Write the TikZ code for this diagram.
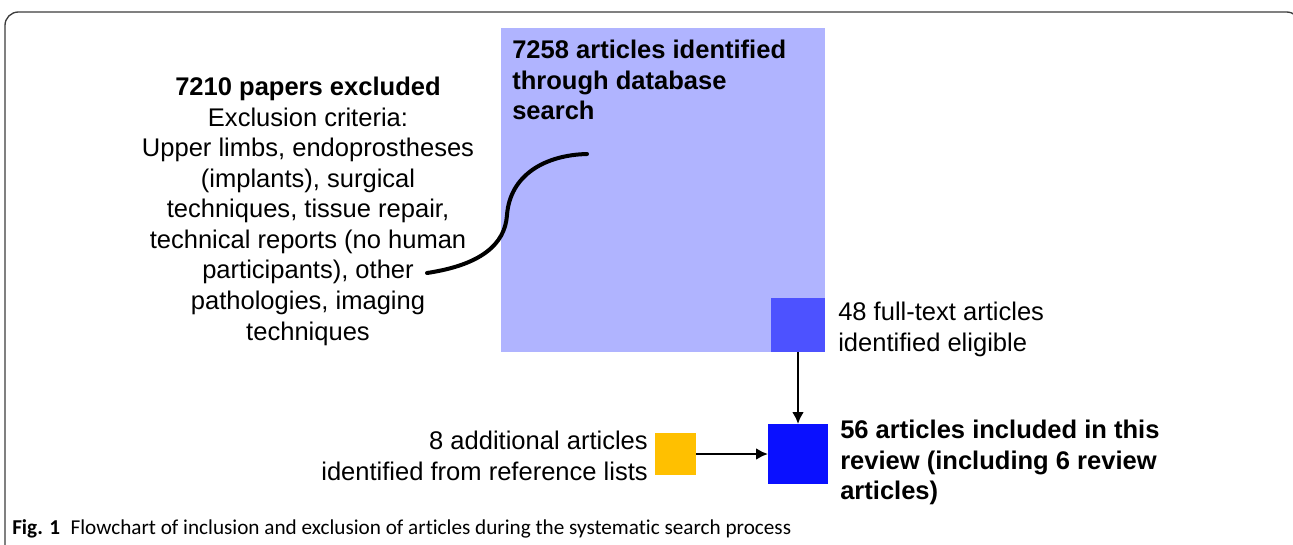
\documentclass[tikz,border=0pt]{standalone}
\usepackage{fontspec}
\setmainfont{Liberation Sans}
\newfontfamily\capfont[Ligatures=NoCommon]{Carlito}
\usetikzlibrary{arrows.meta}
\definecolor{lightbox}{RGB}{176,180,255}
\definecolor{midbox}{RGB}{77,82,255}
\definecolor{darkbox}{RGB}{10,16,255}
\definecolor{yellowbox}{RGB}{255,192,0}
\definecolor{framegray}{RGB}{60,60,60}
\tikzset{
  txt/.style={inner sep=0pt, font=\fontsize{19.15}{22.9}\selectfont},
  boxfill/.style={draw=none, inner sep=0pt, outer sep=0pt},
  flow/.style={draw=black, line width=2.1pt, -{Latex[length=9pt,width=9pt]}},
}
\begin{document}
\begin{tikzpicture}[x=0.75pt,y=-0.75pt]
\useasboundingbox (0,0) rectangle (1293,544);
% frame
\begin{scope}
\clip (0,0) rectangle (1293,544);
\draw[framegray, line width=1pt, rounded corners=10pt] (5,570) -- (5,12) -- (1300,12) -- (1300,570);
\end{scope}
% boxes
\node[boxfill, fill=lightbox, minimum width=243pt, minimum height=243pt, anchor=north west] (db) at (501,28) {};
\node[boxfill, fill=midbox, minimum width=40.5pt, minimum height=40.5pt, anchor=south east] (elig) at (825,352) {};
\node[boxfill, fill=darkbox, minimum width=45pt, minimum height=45pt, anchor=north west] (incl) at (768,424) {};
\node[boxfill, fill=yellowbox, minimum width=31pt, minimum height=31.5pt, anchor=north west] (add) at (655,433) {};
% connectors
\draw[flow] (elig.south) -- (incl.north);
\draw[flow] (add.east) -- (incl.west);
\coordinate (curveA) at (427,273);
\coordinate (curveB) at (587,154);
\draw[line width=3pt, line cap=round] (curveA) .. controls (480,265) and (505,245) .. (507,215) .. controls (510,175) and (545,155) .. (curveB);
% texts
\node[txt, anchor=north west, align=left] (dbtext) at (512,40) {\bfseries 7258 articles identified\\\bfseries through database\\\bfseries search};
\node[txt, anchor=north, align=center] (excl) at (308,77) {\bfseries 7210 papers excluded\\Exclusion criteria:\\Upper limbs, endoprostheses\\(implants), surgical\\techniques, tissue repair,\\technical reports (no human\\participants), other\\pathologies, imaging\\techniques};
\node[txt, anchor=north west, align=left] (eligtext) at (838,302) {48 full-text articles\\identified eligible};
\node[txt, anchor=north east, align=right] (addtext) at (648,431) {8 additional articles\\identified from reference lists};
\node[txt, anchor=north west, align=left] (incltext) at (840,420) {\bfseries 56 articles included in this\\\bfseries review (including 6 review\\\bfseries articles)};
\node[inner sep=0pt, anchor=base west, font=\capfont\fontsize{15.9}{17}\selectfont] (caption) at (12,534) {\textbf{Fig. 1}\hspace{0.5em}Flowchart of inclusion and exclusion of articles during the systematic search process};
\end{tikzpicture}
\end{document}
